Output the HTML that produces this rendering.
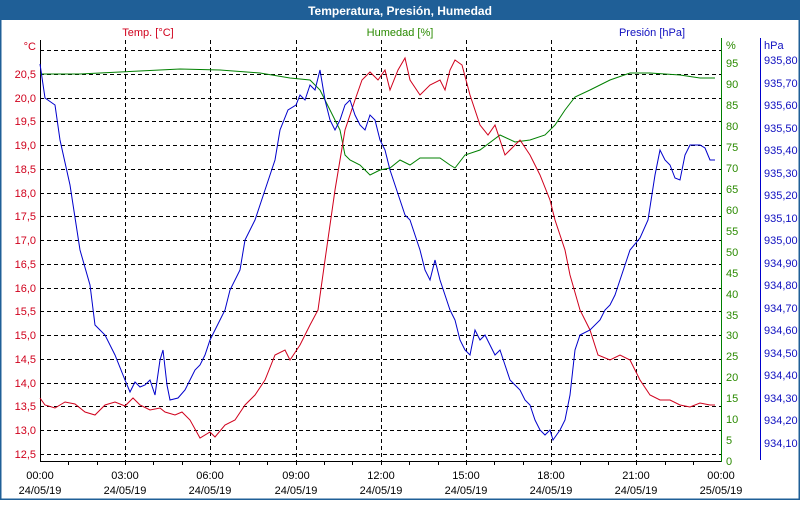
<!DOCTYPE html>
<html><head><meta charset="utf-8"><style>
html,body{margin:0;padding:0;background:#fff}
body{width:800px;height:500px;overflow:hidden;font-family:"Liberation Sans",Tahoma,sans-serif}
</style></head><body>
<svg width="800" height="500" xmlns="http://www.w3.org/2000/svg" font-family="Liberation Sans, sans-serif" font-size="11">
<rect x="0" y="0" width="800" height="500" fill="#fff"/>
<rect x="0" y="0" width="800" height="20" fill="#1f5f97"/>
<rect x="0.5" y="0.5" width="799" height="499" fill="none" stroke="#1f5f97" stroke-width="2"/>
<text x="400" y="15" text-anchor="middle" fill="#fff" font-weight="bold" font-size="12">Temperatura, Presión, Humedad</text>
<text x="148" y="36" text-anchor="middle" fill="#d0001c">Temp. [°C]</text>
<text x="400" y="36" text-anchor="middle" fill="#2a8a00">Humedad [%]</text>
<text x="652" y="36" text-anchor="middle" fill="#1010c0">Presión [hPa]</text>
<g stroke="#000" stroke-dasharray="4,3" stroke-width="1">
<line x1="40" y1="50.5" x2="721" y2="50.5"/><line x1="40" y1="74.5" x2="721" y2="74.5"/><line x1="40" y1="98.5" x2="721" y2="98.5"/><line x1="40" y1="121.5" x2="721" y2="121.5"/><line x1="40" y1="145.5" x2="721" y2="145.5"/><line x1="40" y1="169.5" x2="721" y2="169.5"/><line x1="40" y1="193.5" x2="721" y2="193.5"/><line x1="40" y1="216.5" x2="721" y2="216.5"/><line x1="40" y1="240.5" x2="721" y2="240.5"/><line x1="40" y1="264.5" x2="721" y2="264.5"/><line x1="40" y1="288.5" x2="721" y2="288.5"/><line x1="40" y1="311.5" x2="721" y2="311.5"/><line x1="40" y1="335.5" x2="721" y2="335.5"/><line x1="40" y1="359.5" x2="721" y2="359.5"/><line x1="40" y1="383.5" x2="721" y2="383.5"/><line x1="40" y1="406.5" x2="721" y2="406.5"/><line x1="40" y1="430.5" x2="721" y2="430.5"/><line x1="40" y1="454.5" x2="721" y2="454.5"/>
<line x1="125.5" y1="40" x2="125.5" y2="461"/><line x1="210.5" y1="40" x2="210.5" y2="461"/><line x1="296.5" y1="40" x2="296.5" y2="461"/><line x1="381.5" y1="40" x2="381.5" y2="461"/><line x1="466.5" y1="40" x2="466.5" y2="461"/><line x1="551.5" y1="40" x2="551.5" y2="461"/><line x1="636.5" y1="40" x2="636.5" y2="461"/>
</g>
<line x1="40.5" y1="40" x2="40.5" y2="462" stroke="#000"/>
<line x1="40" y1="461.5" x2="722" y2="461.5" stroke="#000"/>
<line x1="721.5" y1="38" x2="721.5" y2="462" stroke="#008000"/>
<line x1="760.5" y1="38" x2="760.5" y2="460" stroke="#0000cc"/>
<g stroke="#000"><line x1="68.5" y1="461" x2="68.5" y2="465"/><line x1="97.5" y1="461" x2="97.5" y2="465"/><line x1="125.5" y1="461" x2="125.5" y2="465"/><line x1="153.5" y1="461" x2="153.5" y2="465"/><line x1="182.5" y1="461" x2="182.5" y2="465"/><line x1="210.5" y1="461" x2="210.5" y2="465"/><line x1="239.5" y1="461" x2="239.5" y2="465"/><line x1="267.5" y1="461" x2="267.5" y2="465"/><line x1="296.5" y1="461" x2="296.5" y2="465"/><line x1="324.5" y1="461" x2="324.5" y2="465"/><line x1="352.5" y1="461" x2="352.5" y2="465"/><line x1="381.5" y1="461" x2="381.5" y2="465"/><line x1="409.5" y1="461" x2="409.5" y2="465"/><line x1="438.5" y1="461" x2="438.5" y2="465"/><line x1="466.5" y1="461" x2="466.5" y2="465"/><line x1="494.5" y1="461" x2="494.5" y2="465"/><line x1="523.5" y1="461" x2="523.5" y2="465"/><line x1="551.5" y1="461" x2="551.5" y2="465"/><line x1="580.5" y1="461" x2="580.5" y2="465"/><line x1="608.5" y1="461" x2="608.5" y2="465"/><line x1="636.5" y1="461" x2="636.5" y2="465"/><line x1="665.5" y1="461" x2="665.5" y2="465"/><line x1="693.5" y1="461" x2="693.5" y2="465"/></g>
<g fill="#d0001c" text-anchor="end">
<text x="36" y="50">°C</text><text x="36" y="78">20,5</text><text x="36" y="102">20,0</text><text x="36" y="125">19,5</text><text x="36" y="149">19,0</text><text x="36" y="173">18,5</text><text x="36" y="197">18,0</text><text x="36" y="220">17,5</text><text x="36" y="244">17,0</text><text x="36" y="268">16,5</text><text x="36" y="292">16,0</text><text x="36" y="315">15,5</text><text x="36" y="339">15,0</text><text x="36" y="363">14,5</text><text x="36" y="387">14,0</text><text x="36" y="410">13,5</text><text x="36" y="434">13,0</text><text x="36" y="458">12,5</text>
</g>
<g fill="#2a8a00">
<text x="726" y="49">%</text><text x="726" y="67">95</text><text x="726" y="88">90</text><text x="726" y="109">85</text><text x="726" y="130">80</text><text x="726" y="151">75</text><text x="726" y="172">70</text><text x="726" y="193">65</text><text x="726" y="214">60</text><text x="726" y="235">55</text><text x="726" y="256">50</text><text x="726" y="277">45</text><text x="726" y="298">40</text><text x="726" y="319">35</text><text x="726" y="339">30</text><text x="726" y="360">25</text><text x="726" y="381">20</text><text x="726" y="402">15</text><text x="726" y="423">10</text><text x="726" y="444">5</text><text x="726" y="465">0</text>
</g>
<g fill="#1010c0">
<text x="764" y="49">hPa</text><text x="764" y="64">935,80</text><text x="764" y="87">935,70</text><text x="764" y="109">935,60</text><text x="764" y="132">935,50</text><text x="764" y="154">935,40</text><text x="764" y="177">935,30</text><text x="764" y="199">935,20</text><text x="764" y="222">935,10</text><text x="764" y="244">935,00</text><text x="764" y="267">934,90</text><text x="764" y="289">934,80</text><text x="764" y="312">934,70</text><text x="764" y="334">934,60</text><text x="764" y="357">934,50</text><text x="764" y="379">934,40</text><text x="764" y="402">934,30</text><text x="764" y="424">934,20</text><text x="764" y="447">934,10</text>
</g>
<g fill="#000" text-anchor="middle">
<text x="40" y="479">00:00</text><text x="40" y="494">24/05/19</text>
<text x="125" y="479">03:00</text><text x="125" y="494">24/05/19</text>
<text x="210" y="479">06:00</text><text x="210" y="494">24/05/19</text>
<text x="296" y="479">09:00</text><text x="296" y="494">24/05/19</text>
<text x="381" y="479">12:00</text><text x="381" y="494">24/05/19</text>
<text x="466" y="479">15:00</text><text x="466" y="494">24/05/19</text>
<text x="551" y="479">18:00</text><text x="551" y="494">24/05/19</text>
<text x="636" y="479">21:00</text><text x="636" y="494">24/05/19</text>
<text x="721" y="479">00:00</text><text x="721" y="494">25/05/19</text>
</g>
<polyline fill="none" stroke="#008000" stroke-width="1" points="40,74 60,74 80,74 120,72 180,69 220,70 260,73 290,78 310,80 320,90 330,110 340,130 345,155 350,160 360,165 370,175 380,170 390,168 400,160 410,165 420,158 440,158 450,165 455,168 465,155 480,150 500,135 515,142 530,140 545,135 555,125 565,110 575,97 590,90 610,80 630,73 650,73 680,75 700,78 715,78"/>
<polyline fill="none" stroke="#d0001c" stroke-width="1" points="40,398 45,405 55,408 65,402 75,404 85,412 95,415 105,405 115,402 125,406 133,398 140,405 150,410 160,408 165,412 175,415 182,412 190,420 200,438 210,432 215,437 225,425 235,420 245,405 255,395 265,380 275,355 285,350 290,360 300,345 310,325 318,310 325,260 335,190 345,130 355,100 362,80 370,72 378,80 385,70 390,90 398,70 405,58 410,80 420,95 430,85 440,80 445,90 450,70 455,60 462,65 470,95 480,125 488,135 495,125 505,155 515,145 520,140 530,155 540,175 550,200 555,220 565,250 570,275 580,310 590,330 598,355 610,360 620,355 630,360 640,380 650,395 660,400 670,400 680,405 690,407 700,403 710,405 715,405"/>
<polyline fill="none" stroke="#0000cc" stroke-width="1" points="40,64 45,98 55,105 60,140 70,185 80,250 90,285 95,325 105,335 115,355 125,380 130,392 135,382 140,387 145,385 150,380 155,395 160,360 163,350 167,385 170,400 178,398 185,390 190,380 195,370 200,365 205,355 210,340 215,330 225,310 230,290 240,270 245,240 255,220 265,190 275,160 280,130 288,110 296,105 300,95 305,100 310,85 315,90 320,70 325,100 330,120 335,130 340,120 345,105 350,100 355,115 360,125 365,130 370,115 375,120 380,140 385,150 390,170 395,185 400,200 405,215 410,220 420,250 425,270 430,280 435,260 440,280 445,295 450,310 455,320 460,340 465,350 470,355 475,330 480,340 485,335 490,345 495,355 500,350 505,365 510,380 515,385 520,390 525,400 530,405 535,420 540,430 545,435 550,430 553,440 560,430 565,420 570,395 575,350 580,335 590,330 600,320 605,310 610,305 615,295 620,280 625,265 630,250 640,238 648,220 655,175 660,150 665,160 670,165 675,178 680,180 685,155 690,145 700,145 705,148 710,160 715,160"/>
</svg>
</body></html>
